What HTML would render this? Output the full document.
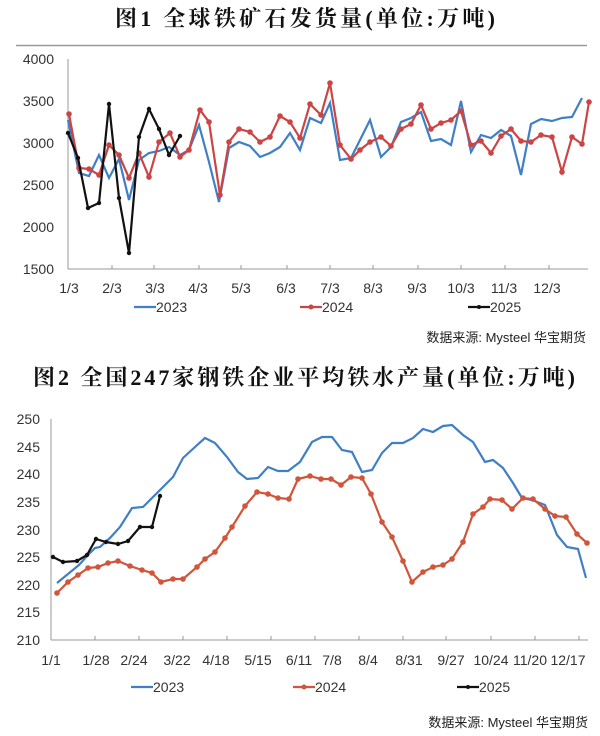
<!DOCTYPE html>
<html><head><meta charset="utf-8"><style>
body{margin:0;background:#fff;}
svg{display:block;font-family:"Liberation Sans","Noto Sans CJK SC",sans-serif;}
.ttl{font-family:"Liberation Serif","Noto Serif CJK SC",serif;}
</style></head><body>
<svg width="600" height="736" viewBox="0 0 600 736" xmlns="http://www.w3.org/2000/svg">
<rect width="600" height="736" fill="#fff"/>
<!-- Chart 1 -->
<text class="ttl" x="115" y="26" textLength="380" lengthAdjust="spacing" font-size="22" font-weight="bold" fill="#111">图1  全球铁矿石发货量(单位:万吨)</text>
<line x1="16" y1="45.5" x2="587" y2="45.5" stroke="#999" stroke-width="1.5"/>
<g font-size="14" fill="#333" text-anchor="end">
<text x="54" y="64">4000</text><text x="54" y="106">3500</text><text x="54" y="148">3000</text>
<text x="54" y="190">2500</text><text x="54" y="232">2000</text><text x="54" y="274">1500</text>
</g>
<line x1="68" y1="59" x2="68" y2="269" stroke="#999"/>
<line x1="68" y1="269" x2="588" y2="269" stroke="#999"/>
<g stroke="#999"><line x1="112" y1="265" x2="112" y2="269"/><line x1="154" y1="265" x2="154" y2="269"/><line x1="199" y1="265" x2="199" y2="269"/><line x1="241" y1="265" x2="241" y2="269"/><line x1="287" y1="265" x2="287" y2="269"/><line x1="330" y1="265" x2="330" y2="269"/><line x1="373" y1="265" x2="373" y2="269"/><line x1="418" y1="265" x2="418" y2="269"/><line x1="461" y1="265" x2="461" y2="269"/><line x1="505" y1="265" x2="505" y2="269"/><line x1="549" y1="265" x2="549" y2="269"/></g>
<g font-size="14" fill="#333" text-anchor="middle">
<text x="69" y="293">1/3</text><text x="112" y="293">2/3</text><text x="155" y="293">3/3</text><text x="198" y="293">4/3</text><text x="241" y="293">5/3</text><text x="286" y="293">6/3</text><text x="330" y="293">7/3</text><text x="373" y="293">8/3</text><text x="417" y="293">9/3</text><text x="461" y="293">10/3</text><text x="504" y="293">11/3</text><text x="547" y="293">12/3</text>
</g>
<polyline fill="none" stroke="#3f7fc6" stroke-width="2.2" points="68,120 79,173 89,176 99,155 109,178 119,159 129,200 139,160 149,153 159,151 169,147 180,155 189,150 199,125 209,162 219,202 229,148 239,142 250,146 260,157 270,153 280,147 290,133 300,150 310,118 321,123 330,103 340,160 351,158 360,140 370,120 381,157 391,147 401,122 411,118 421,112 431,141 441,139 451,145 461,101 471,152 481,135 491,138 501,130 511,136 521,175 531,124 541,119 552,121 562,118 572,117 582,98"/>
<g fill="#cc4444"><polyline fill="none" stroke="#cc4444" stroke-width="2.2" points="69,114 79,168 89,169 99,175 109,145 119,155 129,178 139,153 149,177 159,142 170,133 180,157 189,150 200,110 209,122 220,195 229,142 239,129 250,132 260,142 270,137 280,116 290,122 300,138 310,104 321,115 330,83 340,145 351,159 360,150 370,142 381,137 391,146 401,129 411,124 421,105 431,129 441,123 451,120 461,111 471,145 481,141 491,153 501,136 511,129 521,141 531,142 541,135 552,137 562,172 572,137 582,144 589,102"/>
<circle cx="69" cy="114" r="2.8"/><circle cx="79" cy="168" r="2.8"/><circle cx="89" cy="169" r="2.8"/><circle cx="99" cy="175" r="2.8"/><circle cx="109" cy="145" r="2.8"/><circle cx="119" cy="155" r="2.8"/><circle cx="129" cy="178" r="2.8"/><circle cx="139" cy="153" r="2.8"/><circle cx="149" cy="177" r="2.8"/><circle cx="159" cy="142" r="2.8"/><circle cx="170" cy="133" r="2.8"/><circle cx="180" cy="157" r="2.8"/><circle cx="189" cy="150" r="2.8"/><circle cx="200" cy="110" r="2.8"/><circle cx="209" cy="122" r="2.8"/><circle cx="220" cy="195" r="2.8"/><circle cx="229" cy="142" r="2.8"/><circle cx="239" cy="129" r="2.8"/><circle cx="250" cy="132" r="2.8"/><circle cx="260" cy="142" r="2.8"/><circle cx="270" cy="137" r="2.8"/><circle cx="280" cy="116" r="2.8"/><circle cx="290" cy="122" r="2.8"/><circle cx="300" cy="138" r="2.8"/><circle cx="310" cy="104" r="2.8"/><circle cx="321" cy="115" r="2.8"/><circle cx="330" cy="83" r="2.8"/><circle cx="340" cy="145" r="2.8"/><circle cx="351" cy="159" r="2.8"/><circle cx="360" cy="150" r="2.8"/><circle cx="370" cy="142" r="2.8"/><circle cx="381" cy="137" r="2.8"/><circle cx="391" cy="146" r="2.8"/><circle cx="401" cy="129" r="2.8"/><circle cx="411" cy="124" r="2.8"/><circle cx="421" cy="105" r="2.8"/><circle cx="431" cy="129" r="2.8"/><circle cx="441" cy="123" r="2.8"/><circle cx="451" cy="120" r="2.8"/><circle cx="461" cy="111" r="2.8"/><circle cx="471" cy="145" r="2.8"/><circle cx="481" cy="141" r="2.8"/><circle cx="491" cy="153" r="2.8"/><circle cx="501" cy="136" r="2.8"/><circle cx="511" cy="129" r="2.8"/><circle cx="521" cy="141" r="2.8"/><circle cx="531" cy="142" r="2.8"/><circle cx="541" cy="135" r="2.8"/><circle cx="552" cy="137" r="2.8"/><circle cx="562" cy="172" r="2.8"/><circle cx="572" cy="137" r="2.8"/><circle cx="582" cy="144" r="2.8"/><circle cx="589" cy="102" r="2.8"/></g>
<g fill="#111"><polyline fill="none" stroke="#111" stroke-width="2.2" points="68,133 78,158 88,208 99,203 109,104 119,198 129,253 139,137 149,109 159,129 169,155 180,136"/>
<circle cx="68" cy="133" r="2.2"/><circle cx="78" cy="158" r="2.2"/><circle cx="88" cy="208" r="2.2"/><circle cx="99" cy="203" r="2.2"/><circle cx="109" cy="104" r="2.2"/><circle cx="119" cy="198" r="2.2"/><circle cx="129" cy="253" r="2.2"/><circle cx="139" cy="137" r="2.2"/><circle cx="149" cy="109" r="2.2"/><circle cx="159" cy="129" r="2.2"/><circle cx="169" cy="155" r="2.2"/><circle cx="180" cy="136" r="2.2"/></g>
<g font-size="14" fill="#333">
<line x1="134" y1="307" x2="156" y2="307" stroke="#3f7fc6" stroke-width="2.2"/><text x="156" y="312">2023</text>
<line x1="300" y1="307" x2="322" y2="307" stroke="#cc4444" stroke-width="2.2"/><circle cx="311" cy="307" r="2.5" fill="#cc4444"/><text x="322" y="312">2024</text>
<line x1="468" y1="307" x2="490" y2="307" stroke="#111" stroke-width="2.2"/><circle cx="479" cy="307" r="2" fill="#111"/><text x="490" y="312">2025</text>
</g>
<text x="586" y="342" text-anchor="end" font-size="13" fill="#222">数据来源: Mysteel 华宝期货</text>
<!-- Chart 2 -->
<text class="ttl" x="33" y="385" textLength="542" lengthAdjust="spacing" font-size="22" font-weight="bold" fill="#111">图2  全国247家钢铁企业平均铁水产量(单位:万吨)</text>
<g font-size="14" fill="#333" text-anchor="end">
<text x="40" y="424">250</text><text x="40" y="452">245</text><text x="40" y="479">240</text><text x="40" y="507">235</text>
<text x="40" y="535">230</text><text x="40" y="562">225</text><text x="40" y="590">220</text><text x="40" y="617">215</text><text x="40" y="645">210</text>
</g>
<line x1="51" y1="419" x2="51" y2="640" stroke="#999"/>
<line x1="51" y1="640" x2="588" y2="640" stroke="#999"/>
<g stroke="#999"><line x1="95" y1="636" x2="95" y2="640"/><line x1="139" y1="636" x2="139" y2="640"/><line x1="183" y1="636" x2="183" y2="640"/><line x1="227" y1="636" x2="227" y2="640"/><line x1="271" y1="636" x2="271" y2="640"/><line x1="315" y1="636" x2="315" y2="640"/><line x1="359" y1="636" x2="359" y2="640"/><line x1="403" y1="636" x2="403" y2="640"/><line x1="446" y1="636" x2="446" y2="640"/><line x1="491" y1="636" x2="491" y2="640"/><line x1="535" y1="636" x2="535" y2="640"/><line x1="579" y1="636" x2="579" y2="640"/></g>
<g font-size="14" fill="#333" text-anchor="middle">
<text x="51" y="665">1/1</text><text x="96" y="665">1/28</text><text x="134" y="665">2/24</text><text x="177" y="665">3/22</text><text x="216" y="665">4/18</text><text x="258" y="665">5/15</text><text x="299" y="665">6/11</text><text x="332" y="665">7/8</text><text x="368" y="665">8/4</text><text x="409" y="665">8/31</text><text x="451" y="665">9/27</text><text x="491" y="665">10/24</text><text x="530" y="665">11/20</text><text x="568" y="665">12/17</text>
</g>
<polyline fill="none" stroke="#3f7fc6" stroke-width="2.2" points="57,583 79,565 88,555 95,548 100,547 110,538 120,527 132,508 143,507 153,497 163,487 173,477 183,458 195,447 205,438 215,443 227,457 238,472 247,479 258,478 268,467 278,471 288,471 300,462 312,442 322,437 332,437 342,450 352,452 362,472 372,470 382,453 392,443 403,443 413,438 423,429 433,432 443,426 452,425 463,435 473,442 485,462 493,460 503,468 513,483 522,498 532,500 545,505 557,535 567,547 578,549 586,578"/>
<g fill="#d0553a"><polyline fill="none" stroke="#d0553a" stroke-width="2.2" points="57,593 68,582 78,575 88,568 98,567 108,563 118,561 130,566 142,570 152,573 161,582 173,579 183,579 197,567 205,559 215,552 225,538 232,527 245,506 257,492 268,494 278,498 289,499 298,479 310,476 321,479 331,479 341,485 351,477 362,478 371,494 382,522 392,537 403,561 412,582 423,572 433,567 443,565 452,559 463,542 473,514 483,507 490,499 502,500 512,509 523,498 533,499 545,509 555,516 566,517 577,534 587,543"/>
<circle cx="57" cy="593" r="2.8"/><circle cx="68" cy="582" r="2.8"/><circle cx="78" cy="575" r="2.8"/><circle cx="88" cy="568" r="2.8"/><circle cx="98" cy="567" r="2.8"/><circle cx="108" cy="563" r="2.8"/><circle cx="118" cy="561" r="2.8"/><circle cx="130" cy="566" r="2.8"/><circle cx="142" cy="570" r="2.8"/><circle cx="152" cy="573" r="2.8"/><circle cx="161" cy="582" r="2.8"/><circle cx="173" cy="579" r="2.8"/><circle cx="183" cy="579" r="2.8"/><circle cx="197" cy="567" r="2.8"/><circle cx="205" cy="559" r="2.8"/><circle cx="215" cy="552" r="2.8"/><circle cx="225" cy="538" r="2.8"/><circle cx="232" cy="527" r="2.8"/><circle cx="245" cy="506" r="2.8"/><circle cx="257" cy="492" r="2.8"/><circle cx="268" cy="494" r="2.8"/><circle cx="278" cy="498" r="2.8"/><circle cx="289" cy="499" r="2.8"/><circle cx="298" cy="479" r="2.8"/><circle cx="310" cy="476" r="2.8"/><circle cx="321" cy="479" r="2.8"/><circle cx="331" cy="479" r="2.8"/><circle cx="341" cy="485" r="2.8"/><circle cx="351" cy="477" r="2.8"/><circle cx="362" cy="478" r="2.8"/><circle cx="371" cy="494" r="2.8"/><circle cx="382" cy="522" r="2.8"/><circle cx="392" cy="537" r="2.8"/><circle cx="403" cy="561" r="2.8"/><circle cx="412" cy="582" r="2.8"/><circle cx="423" cy="572" r="2.8"/><circle cx="433" cy="567" r="2.8"/><circle cx="443" cy="565" r="2.8"/><circle cx="452" cy="559" r="2.8"/><circle cx="463" cy="542" r="2.8"/><circle cx="473" cy="514" r="2.8"/><circle cx="483" cy="507" r="2.8"/><circle cx="490" cy="499" r="2.8"/><circle cx="502" cy="500" r="2.8"/><circle cx="512" cy="509" r="2.8"/><circle cx="523" cy="498" r="2.8"/><circle cx="533" cy="499" r="2.8"/><circle cx="545" cy="509" r="2.8"/><circle cx="555" cy="516" r="2.8"/><circle cx="566" cy="517" r="2.8"/><circle cx="577" cy="534" r="2.8"/><circle cx="587" cy="543" r="2.8"/></g>
<g fill="#111"><polyline fill="none" stroke="#111" stroke-width="2.2" points="53,557 63,562 77,561 87,555 96,539 106,542 118,544 128,541 140,527 152,527 160,496"/>
<circle cx="53" cy="557" r="2.2"/><circle cx="63" cy="562" r="2.2"/><circle cx="77" cy="561" r="2.2"/><circle cx="87" cy="555" r="2.2"/><circle cx="96" cy="539" r="2.2"/><circle cx="106" cy="542" r="2.2"/><circle cx="118" cy="544" r="2.2"/><circle cx="128" cy="541" r="2.2"/><circle cx="140" cy="527" r="2.2"/><circle cx="152" cy="527" r="2.2"/><circle cx="160" cy="496" r="2.2"/></g>
<g font-size="14" fill="#333">
<line x1="131" y1="687" x2="153" y2="687" stroke="#3f7fc6" stroke-width="2.2"/><text x="153" y="692">2023</text>
<line x1="293" y1="687" x2="315" y2="687" stroke="#d0553a" stroke-width="2.2"/><circle cx="304" cy="687" r="2.5" fill="#d0553a"/><text x="315" y="692">2024</text>
<line x1="457" y1="687" x2="479" y2="687" stroke="#111" stroke-width="2.2"/><circle cx="468" cy="687" r="2" fill="#111"/><text x="479" y="692">2025</text>
</g>
<text x="588" y="727" text-anchor="end" font-size="13" fill="#222">数据来源: Mysteel 华宝期货</text>
</svg>
</body></html>
